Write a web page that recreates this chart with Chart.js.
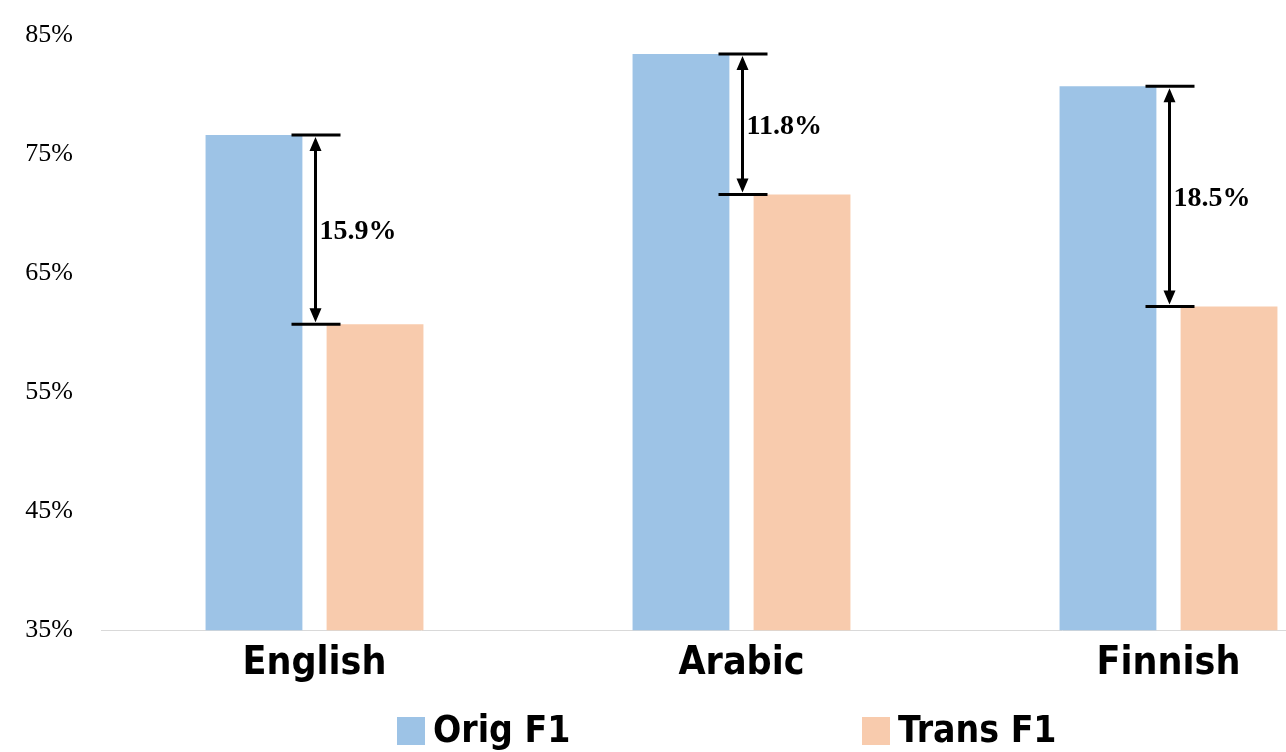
<!DOCTYPE html>
<html>
<head>
<meta charset="utf-8">
<script src="https://cdn.jsdelivr.net/npm/chart.js@4/dist/chart.umd.min.js"></script>
<style>
  body { margin: 0; background: #fff; overflow: hidden; }
  #wrap { width: 1382px; height: 752px; }
</style>
</head>
<body>
<div id="wrap"><canvas id="f1Chart"></canvas></div>
<script>
// chart data
const languages = ['English', 'Arabic', 'Finnish'];
const origF1 = [76.6, 83.4, 80.7];
const transF1 = [60.7, 71.6, 62.2];
const gapLabels = ['15.9%', '11.8%', '18.5%'];
const yTicks = [35, 45, 55, 65, 75, 85];

const blue = '#9DC3E6';
const peach = '#F8CBAD';
const catFont = "'Liberation Sans Narrow', 'DejaVu Sans Condensed', sans-serif";
const serifFont = "'Liberation Serif', 'Times New Roman', serif";

// draws the double arrows with caps between the two bars of each language
const gapArrows = {
  id: 'gapArrows',
  afterDatasetsDraw(chart) {
    const ctx = chart.ctx;
    const xs = chart.scales.x;
    const ys = chart.scales.y;
    ctx.save();
    ctx.strokeStyle = '#000';
    ctx.fillStyle = '#000';
    languages.forEach((lang, i) => {
      const x = xs.getPixelForValue(i) + 1;
      const yTop = ys.getPixelForValue(origF1[i]);
      const yBot = ys.getPixelForValue(transF1[i]);
      // caps
      ctx.lineWidth = 3;
      ctx.beginPath();
      ctx.moveTo(x - 24, yTop); ctx.lineTo(x + 25, yTop);
      ctx.moveTo(x - 24, yBot); ctx.lineTo(x + 25, yBot);
      ctx.stroke();
      // shaft
      ctx.beginPath();
      ctx.moveTo(x, yTop + 10); ctx.lineTo(x, yBot - 10);
      ctx.stroke();
      // heads
      ctx.beginPath();
      ctx.moveTo(x, yTop + 2); ctx.lineTo(x - 6, yTop + 16); ctx.lineTo(x + 6, yTop + 16); ctx.closePath();
      ctx.moveTo(x, yBot - 2); ctx.lineTo(x - 6, yBot - 16); ctx.lineTo(x + 6, yBot - 16); ctx.closePath();
      ctx.fill();
      // label
      ctx.font = 'bold 28px ' + serifFont;
      ctx.textAlign = 'left';
      ctx.textBaseline = 'middle';
      ctx.fillText(gapLabels[i], x + 4, (yTop + yBot) / 2 + 2);
    });
    ctx.restore();
  }
};

// legend at the bottom, boxes close to their text
const bottomLegend = {
  id: 'bottomLegend',
  afterDraw(chart) {
    const ctx = chart.ctx;
    const starts = [397, 862];
    ctx.save();
    ctx.font = 'bold 37px ' + catFont;
    ctx.textBaseline = 'middle';
    ctx.textAlign = 'left';
    chart.data.datasets.forEach((ds, i) => {
      ctx.fillStyle = ds.backgroundColor;
      ctx.fillRect(starts[i], 717, 28, 28);
      ctx.fillStyle = '#000';
      ctx.fillText(ds.label, starts[i] + 36, 732);
    });
    ctx.restore();
  }
};

new Chart(document.getElementById('f1Chart'), {
  type: 'bar',
  data: {
    labels: languages,
    datasets: [
      { label: 'Orig F1', data: origF1, backgroundColor: blue },
      { label: 'Trans F1', data: transF1, backgroundColor: peach }
    ]
  },
  options: {
    responsive: true,
    maintainAspectRatio: false,
    animation: false,
    categoryPercentage: 0.567,
    barPercentage: 0.8,
    layout: { padding: { top: 35, right: 0, bottom: 55, left: 0 } },
    plugins: {
      legend: { display: false },
      tooltip: { enabled: false }
    },
    scales: {
      x: {
        grid: { display: false, drawTicks: false },
        border: { display: true, color: '#d9d9d9', width: 1 },
        ticks: {
          padding: 10,
          color: '#000',
          font: { family: catFont, size: 39, weight: 'bold' }
        }
      },
      y: {
        min: 35,
        max: 85,
        afterFit(scale) {
          scale.width = 101;
          scale.paddingTop = 0;
          scale.paddingBottom = 0;
        },
        afterBuildTicks(scale) { scale.ticks = yTicks.map(v => ({ value: v })); },
        grid: { display: false, drawTicks: false },
        border: { display: false },
        ticks: {
          padding: 28,
          color: '#000',
          font: { family: serifFont, size: 26 },
          callback: v => v + '%'
        }
      }
    }
  },
  plugins: [gapArrows, bottomLegend]
});
</script>
</body>
</html>
